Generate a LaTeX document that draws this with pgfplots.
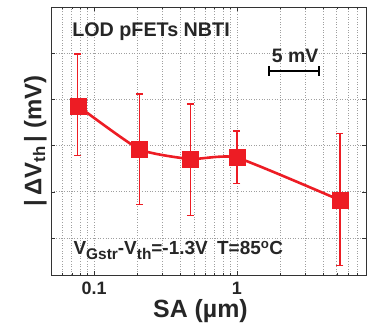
\documentclass[border=0pt]{standalone}
\usepackage{pgfplots}
\pgfplotsset{compat=1.18}
\usepackage{fontspec}
\setmainfont{Liberation Sans}
\definecolor{myred}{RGB}{237,28,36}
\newcommand{\sub}[1]{\raisebox{-0.28em}{\fontsize{15.5}{16}\selectfont #1}}
\begin{document}
\begin{tikzpicture}
\begin{axis}[
  scale only axis,
  width=315bp, height=268bp,
  xmode=log,
  xmin=0.05, xmax=8,
  ymin=1, ymax=30,
  xtick={0.01,0.1,1,10},
  xticklabels={0.01,0.1,1,10},
  ytick={5,10,15,20,25},
  yticklabels={},
  minor ytick={},
  tick align=inside,
  major tick length=4bp,
  minor tick length=2.5bp,
  axis line style={line width=0.9bp, black!80},
  every tick/.style={black!80, line width=0.6bp},
  xmajorgrids=true, xminorgrids=true, ymajorgrids=true,
  major grid style={dash pattern=on 1bp off 1.6bp, gray!75, line width=0.8bp},
  minor grid style={dash pattern=on 1bp off 1.6bp, gray!75, line width=0.8bp},
  /pgf/number format/assume math mode=true,
  tick label style={font=\fontsize{18}{20}\selectfont\bfseries, text=black!85},
  xticklabel style={anchor=north, inner sep=0pt, yshift=-7bp},
  xlabel={SA (\textmu m)},
  xlabel style={at={(rel axis cs:0.5,0)}, anchor=base, yshift=-42.5bp, xshift=-8bp, inner sep=0pt, font=\fontsize{25}{27}\selectfont\bfseries, text=black!85},
  ylabel={|\,ΔV\textsubscript{th}\,| (mV)},
  ylabel style={font=\fontsize{24}{26}\selectfont\bfseries, yshift=-6bp, text=black!85},
  clip=false,
]
\addplot[
  myred, line width=2.6bp, smooth, tension=0.3,
  mark=square*, mark size=8bp,
  mark options={solid, line width=0.5bp, fill=myred},
  error bars/.cd,
    y dir=both, y explicit,
    error bar style={line width=1.4bp, myred},
    error mark options={rotate=90, mark size=3.5bp, line width=1.4bp, myred},
] coordinates {
  (0.077,19.3) += (0,5.6) -= (0,5.4)
  (0.208,14.6) += (0,6.0) -= (0,6.0)
  (0.472,13.55) += (0,5.95) -= (0,6.1)
  (1.0,13.7) += (0,2.9) -= (0,2.8)
  (5.25,9.1) += (0,7.2) -= (0,7.05)
};
\node[anchor=base west, font=\fontsize{19.8}{21}\selectfont\bfseries, text=black!85, inner sep=0pt]
  at (rel axis cs:0.067,0.89) {LOD pFETs NBTI};
\node[anchor=base, font=\fontsize{19.5}{20}\selectfont\bfseries, text=black!85, inner sep=0pt]
  at (rel axis cs:0.775,0.794) {5 mV};
\draw[line width=1.8bp, black] (rel axis cs:0.693,0.762) -- (rel axis cs:0.851,0.762);
\draw[line width=1.8bp, black] (rel axis cs:0.693,0.744) -- (rel axis cs:0.693,0.780);
\draw[line width=1.8bp, black] (rel axis cs:0.851,0.744) -- (rel axis cs:0.851,0.780);
\node[anchor=base west, font=\fontsize{19}{20}\selectfont\bfseries, text=black!85, inner sep=0pt]
  at (rel axis cs:0.071,0.077) {V\sub{Gstr}-V\sub{th}=-1.3V\enspace T=85\textsuperscript{o}C};
\end{axis}
\pgfresetboundingbox
\path ([shift={(-51bp,-48bp)}]current axis.south west) rectangle ([shift={(14bp,7bp)}]current axis.north east);
\end{tikzpicture}
\end{document}
